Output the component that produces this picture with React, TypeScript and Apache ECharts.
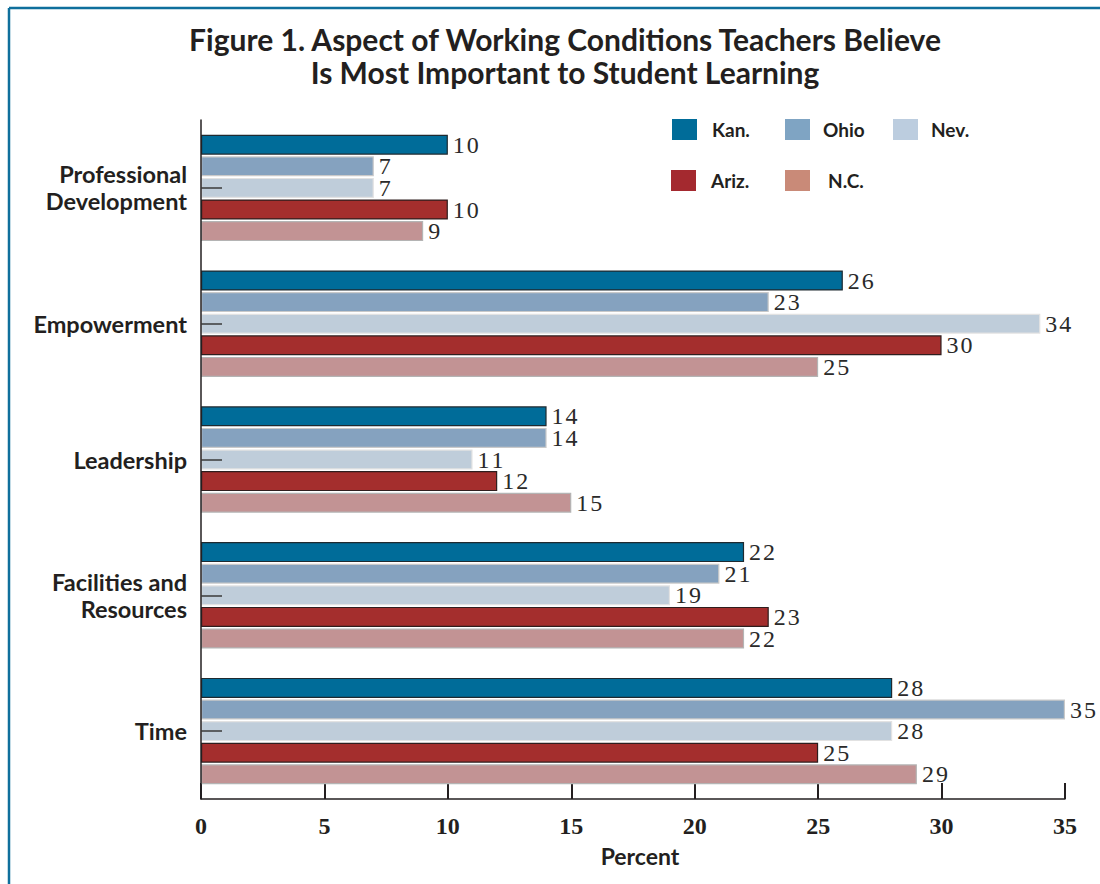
import React, { useEffect, useRef } from "react";
import * as echarts from "echarts";

// Aspects of working conditions (top to bottom)
const categories = [
  "Professional\nDevelopment",
  "Empowerment",
  "Leadership",
  "Facilities and\nResources",
  "Time",
];

const states = ["Kan.", "Ohio", "Nev.", "Ariz.", "N.C."];

// Percent of teachers choosing each aspect, per state
const kan = [10, 26, 14, 22, 28];
const ohio = [7, 23, 14, 21, 35];
const nev = [7, 34, 11, 19, 28];
const ariz = [10, 30, 12, 23, 25];
const nc = [9, 25, 15, 22, 29];

const xTicks = [0, 5, 10, 15, 20, 25, 30, 35];

const barColors = ["#006c99", "#85a2bf", "#bfcdda", "#a42e2d", "#c29394"];
const barBorders = ["#1f2a30", "#c9c9c9", "#e2e2e2", "#2e1e1e", "#b4b4b4"];
const legendColors = ["#006c99", "#7fa4c3", "#bccddf", "#a4292f", "#c98a78"];

// legend slot positions: [left, top, text padding]
const legendSlots: [number, number, number][] = [
  [672, 119, 10],
  [785, 119, 8],
  [893, 119, 8],
  [671, 170, 10],
  [785, 170, 13],
];

const SANS = "Lato, 'Open Sans', sans-serif";
const SERIF = "'Liberation Serif', 'DejaVu Serif', serif";

export default function App() {
  const ref = useRef<HTMLDivElement>(null);

  useEffect(() => {
    if (!ref.current) return;
    const chart = echarts.init(ref.current, undefined, { renderer: "svg" });
    const values = [kan, ohio, nev, ariz, nc];

    const option: echarts.EChartsOption = {
      animation: false,
      backgroundColor: "#ffffff",
      title: {
        text: "Figure 1. Aspect of Working Conditions Teachers Believe\nIs Most Important to Student Learning",
        left: 560,
        top: 17,
        textAlign: "center",
        textStyle: {
          fontFamily: SANS,
          fontWeight: "bold",
          fontSize: 30,
          lineHeight: 33,
          color: "#231f20",
        },
      },
      legend: states.map((s, i) => ({
        data: [{ name: s, itemStyle: { color: legendColors[i], borderWidth: 0 } }],
        left: legendSlots[i][0],
        top: legendSlots[i][1],
        padding: 0,
        itemWidth: 25,
        itemHeight: 21,
        icon: "rect",
        selectedMode: false,
        textStyle: {
          fontFamily: SANS,
          fontWeight: "bold",
          fontSize: 19,
          color: "#231f20",
          padding: [0, 0, 0, legendSlots[i][2]],
        },
      })),
      grid: { left: 201, right: 35, top: 120, bottom: 85, containLabel: false },
      xAxis: {
        type: "value",
        min: 0,
        max: 35,
        interval: 5,
        name: "Percent",
        nameLocation: "middle",
        nameGap: 45,
        nameTextStyle: {
          fontFamily: SANS,
          fontWeight: "bold",
          fontSize: 23,
          color: "#231f20",
          padding: [0, 0, 0, 14],
        },
        axisLine: { show: true, lineStyle: { color: "#231f20", width: 1.5 } },
        axisTick: { show: true, inside: true, length: 16, lineStyle: { color: "#231f20", width: 2 } },
        axisLabel: {
          margin: 15,
          fontFamily: SERIF,
          fontWeight: "bold",
          fontSize: 24,
          color: "#231f20",
          formatter: (v: number) => (xTicks.includes(v) ? String(v) : ""),
        },
        splitLine: { show: false },
      },
      yAxis: {
        type: "category",
        data: categories,
        inverse: true,
        z: 5,
        axisLine: { show: true, lineStyle: { color: "#231f20", width: 1.5 } },
        axisTick: {
          show: true,
          inside: true,
          alignWithLabel: true,
          length: 21,
          lineStyle: { color: "#3a3a3a", width: 1.5 },
        },
        axisLabel: {
          margin: 14,
          fontFamily: SANS,
          fontWeight: "bold",
          fontSize: 23.5,
          lineHeight: 27,
          color: "#231f20",
          align: "right",
        },
      },
      series: states.map((s, i) => ({
        name: s,
        type: "bar" as const,
        data: values[i],
        barWidth: 20,
        barGap: "8%",
        itemStyle: {
          color: barColors[i],
          borderColor: barBorders[i],
          borderWidth: 1.2,
        },
        label: {
          show: true,
          position: "right" as const,
          distance: 5,
          fontFamily: SERIF,
          fontSize: 24,
          lineHeight: 20,
          color: "#2a2a2a",
          formatter: (p: any) => String(p.value).split("").join("\u200A"),
        },
      })),
      graphic: [
        {
          type: "line",
          shape: { x1: 9, y1: 8, x2: 1100, y2: 8 },
          style: { stroke: "#0f6f9c", lineWidth: 2.5 },
          silent: true,
        },
        {
          type: "line",
          shape: { x1: 9, y1: 8, x2: 9, y2: 884 },
          style: { stroke: "#0f6f9c", lineWidth: 2.5 },
          silent: true,
        },
      ],
    };

    chart.setOption(option);
    return () => chart.dispose();
  }, []);

  return (
    <div
      ref={ref}
      style={{ position: "absolute", left: 0, top: 0, width: 1100, height: 884 }}
    />
  );
}
